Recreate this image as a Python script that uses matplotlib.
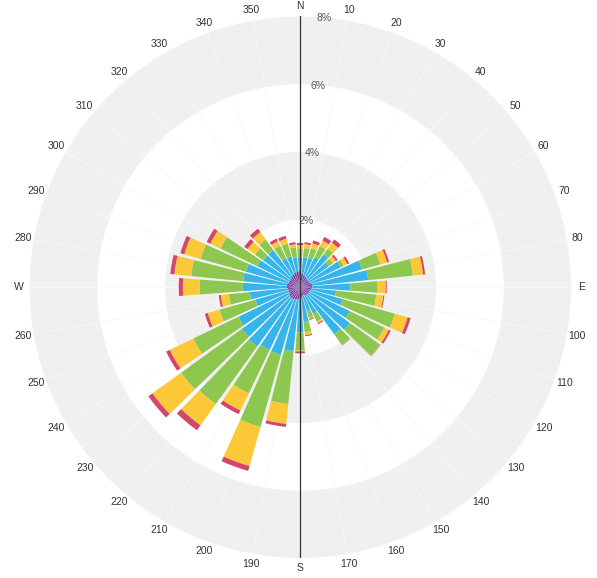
import numpy as np
import matplotlib
matplotlib.use("Agg")
import matplotlib.pyplot as plt

# Wind directions (degrees, clockwise from north)
directions = list(range(0, 360, 10))

# Frequency (%) of each speed class per direction, stacked from the centre outwards
calm = [0.47, 0.41, 0.36, 0.33, 0.30, 0.30, 0.30, 0.33, 0.36, 0.36, 0.33, 0.30,
        0.30, 0.30, 0.30, 0.27, 0.27, 0.30, 0.33, 0.36, 0.39, 0.41, 0.41, 0.39,
        0.36, 0.36, 0.36, 0.39, 0.39, 0.36, 0.36, 0.36, 0.39, 0.41, 0.44, 0.47]
light = [0.41, 0.47, 0.53, 0.65, 0.89, 0.74, 1.04, 1.57, 1.66, 1.13, 0.74, 1.01,
         1.33, 1.51, 1.42, 0.62, 0.47, 0.74, 1.01, 1.54, 1.69, 1.66, 1.75, 1.72,
         1.66, 1.01, 1.13, 1.30, 1.30, 1.30, 1.04, 0.98, 0.95, 0.53, 0.50, 0.41]
moderate = [0.24, 0.27, 0.30, 0.36, 0.21, 0.15, 0.09, 0.56, 1.33, 0.80, 1.19, 1.60,
            1.13, 1.10, 0.39, 0.24, 0.21, 0.30, 0.53, 1.57, 2.22, 1.42, 2.10, 2.22,
            1.48, 1.10, 0.62, 1.27, 1.54, 1.39, 1.21, 0.30, 0.39, 0.41, 0.39, 0.30]
fresh = [0.12, 0.12, 0.15, 0.18, 0.21, 0.12, 0.12, 0.21, 0.30, 0.24, 0.21, 0.39,
         0.15, 0.01, 0.01, 0.06, 0.03, 0.09, 0.03, 0.59, 1.19, 0.56, 0.77, 1.04,
         0.77, 0.36, 0.24, 0.50, 0.50, 0.50, 0.33, 0.27, 0.27, 0.15, 0.15, 0.09]
strong = [0.06, 0.06, 0.09, 0.12, 0.12, 0.06, 0.06, 0.06, 0.06, 0.03, 0.03, 0.09,
          0.06, 0.01, 0.01, 0.03, 0.03, 0.03, 0.06, 0.09, 0.15, 0.12, 0.18, 0.15,
          0.12, 0.09, 0.06, 0.12, 0.12, 0.12, 0.12, 0.12, 0.12, 0.09, 0.09, 0.06]

series = [calm, light, moderate, fresh, strong]
colors = ["#7d3f9c", "#37b5ea", "#8dc74f", "#fbc838", "#d4456c"]

radial_ticks = [2, 4, 6, 8]
radial_labels = ["2%", "4%", "6%", "8%"]
cardinals = {0: "N", 90: "E", 180: "S", 270: "W"}

fig = plt.figure(figsize=(5.97, 5.78), dpi=100)
ax = fig.add_axes([0.0486, 0.0346, 0.908, 0.9377], projection="polar")
ax.set_theta_zero_location("N")
ax.set_theta_direction(-1)
ax.set_ylim(0, 8)
ax.set_facecolor("white")
ax.spines["polar"].set_visible(False)
ax.grid(False)
ax.set_xticks([])
ax.set_yticks([])

# Alternating background bands
full = np.linspace(0, 2 * np.pi, 721)
for lo in (2, 6):
    ax.fill_between(full, lo, lo + 2, color="#f0f0f0", lw=0, zorder=0)

# Faint spokes every 10 degrees
for d in directions:
    t = np.deg2rad(d)
    ax.plot([t, t], [0, 8], color="#f8f8f8", lw=0.6, zorder=0.5)

# Stacked bars
theta = np.deg2rad(directions)
width = np.deg2rad(8.5)
bottom = np.zeros(len(directions))
for vals, col in zip(series, colors):
    vals = np.asarray(vals)
    ax.bar(theta, vals, width=width, bottom=bottom, color=col,
           edgecolor="none", zorder=2)
    bottom = bottom + vals

# North-south axis line
ax.plot([0, 0], [0, 8], color="#333333", lw=0.9, zorder=3)
ax.plot([np.pi, np.pi], [0, 8], color="#333333", lw=0.9, zorder=3)

# Direction labels
for d in directions:
    label = cardinals.get(d, str(d))
    ax.text(np.deg2rad(d), 8.3, label, ha="center", va="center",
            fontsize=7.5, color="#333333", family="Liberation Sans",
            clip_on=False)

# Radial labels
for r, lab in zip(radial_ticks, radial_labels):
    ax.text(np.deg2rad(5.2), r - 0.03, lab, ha="center", va="center",
            fontsize=7.5, color="#555555", family="Liberation Sans",
            zorder=4)

fig.savefig("out.png", dpi=100, facecolor="white")
